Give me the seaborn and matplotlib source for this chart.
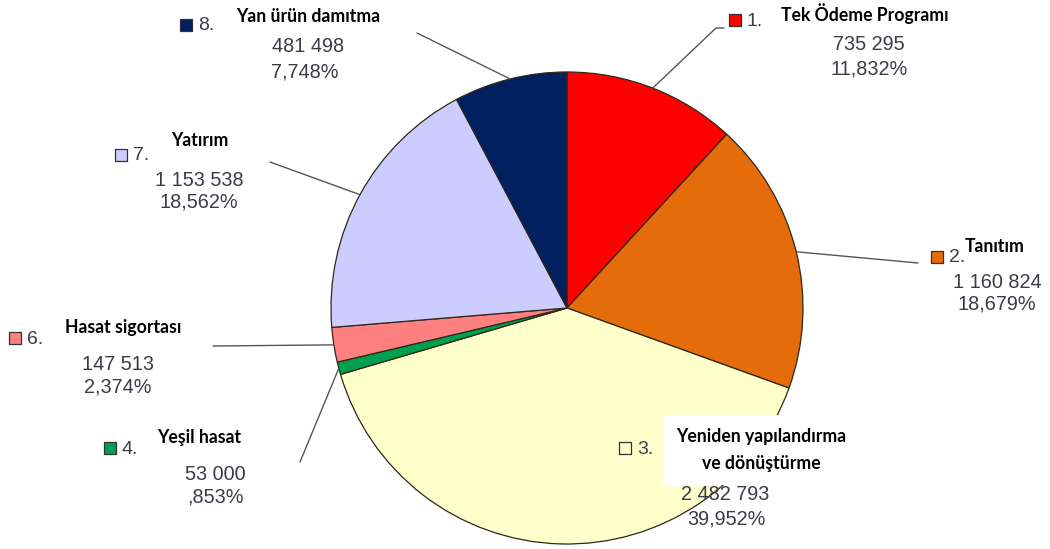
import numpy as np
import matplotlib
matplotlib.use("Agg")
import matplotlib.pyplot as plt
import seaborn as sns

# ---- data ----
indices = ["1.", "2.", "3.", "4.", "6.", "7.", "8."]
titles = ["Tek Ödeme Programı", "Tanıtım", "Yeniden yapılandırma\nve dönüştürme",
          "Yeşil hasat", "Hasat sigortası", "Yatırım", "Yan ürün damıtma"]
amounts = [735295, 1160824, 2482793, 53000, 147513, 1153538, 481498]
amount_labels = ["735 295", "1 160 824", "2 482 793", "53 000", "147 513", "1 153 538", "481 498"]
percent_labels = ["11,832%", "18,679%", "39,952%", ",853%", "2,374%", "18,562%", "7,748%"]
colors = ["#ff0000", "#e46c0a", "#ffffcc", "#00a050", "#ff8080", "#ccccff", "#002060"]

sns.set_theme(style="white")
plt.rcParams['font.family'] = ['Liberation Sans', 'DejaVu Sans']

W, H = 1050, 549
fig = plt.figure(figsize=(W / 100, H / 100), dpi=100)
fig.patch.set_facecolor("white")

cx, cy, R = 567, 308, 236
ax = fig.add_axes([(cx - R) / W, (H - cy - R) / H, 2 * R / W, 2 * R / H])
wedges, _ = ax.pie(amounts, colors=colors, startangle=90, counterclock=False,
                   radius=1.0, wedgeprops=dict(edgecolor="#2e2818", linewidth=0.9))
ax.set_xlim(-1, 1)
ax.set_ylim(-1, 1)
ax.axis("off")

ov = fig.add_axes([0, 0, 1, 1], zorder=5)
ov.set_xlim(0, W)
ov.set_ylim(H, 0)
ov.axis("off")
ov.patch.set_alpha(0)


def edge_px(w):
    th = np.deg2rad((w.theta1 + w.theta2) / 2)
    d = ax.transData.transform((np.cos(th), np.sin(th)))
    return ov.transData.inverted().transform(d)


# layout per slice: leader end points, marker pos, title pos, number pos
leaders = {0: [(716, 28), (724, 28)], 1: [(918, 263)], 2: None, 3: [(300, 462)],
           4: [(213, 346)], 5: [(270, 162)], 6: [(417, 33)]}
marker_pos = [(735, 20), (937, 257), (625, 448), (110, 448), (15, 338), (121, 155), (186, 25)]
title_pos = [(865, 14), (995, 246), (761, 450), (199, 438), (123, 328), (200, 140), (308, 16)]
title_pad = [0.4, 0.15, 0.72, 0.4, 0.4, 0.4, 0.4]
amt_pos = [(869, 45), (997, 283), (725, 495), (215, 475), (118, 365), (199, 180), (308, 47)]
pct_pos = [(869, 69), (997, 304), (726, 519), (215, 497), (118, 387), (199, 202), (305, 72)]

txtcol = "#3b3b48"
for i, w in enumerate(wedges):
    if leaders[i] is not None:
        ex, ey = edge_px(w)
        pts = [(ex, ey)] + leaders[i]
        ov.plot([p[0] for p in pts], [p[1] for p in pts], color="#555555", lw=1.0, zorder=1)
    mx, my = marker_pos[i]
    ov.scatter([mx], [my], marker="s", s=70, color=colors[i], edgecolor="#333333",
               linewidth=0.9, zorder=3)
    ov.text(mx + 12, my + 1, indices[i], fontsize=14, color=txtcol,
            ha="left", va="center", zorder=3)
    tx, ty = title_pos[i]
    ov.text(tx, ty, titles[i], fontsize=12.7, fontweight="bold", family=["Lato", "DejaVu Sans"],
            color="black", ha="center", va="center", linespacing=1.75, zorder=4,
            bbox=dict(boxstyle=f"square,pad={title_pad[i]}", facecolor="white", edgecolor="none"))
    ax_, ay_ = amt_pos[i]
    ov.text(ax_, ay_, amount_labels[i], fontsize=14.3, color=txtcol,
            ha="center", va="center", zorder=3)
    px_, py_ = pct_pos[i]
    ov.text(px_, py_, percent_labels[i], fontsize=14.3, color=txtcol,
            ha="center", va="center", zorder=3)

fig.savefig("out.png", dpi=100, facecolor="white")
